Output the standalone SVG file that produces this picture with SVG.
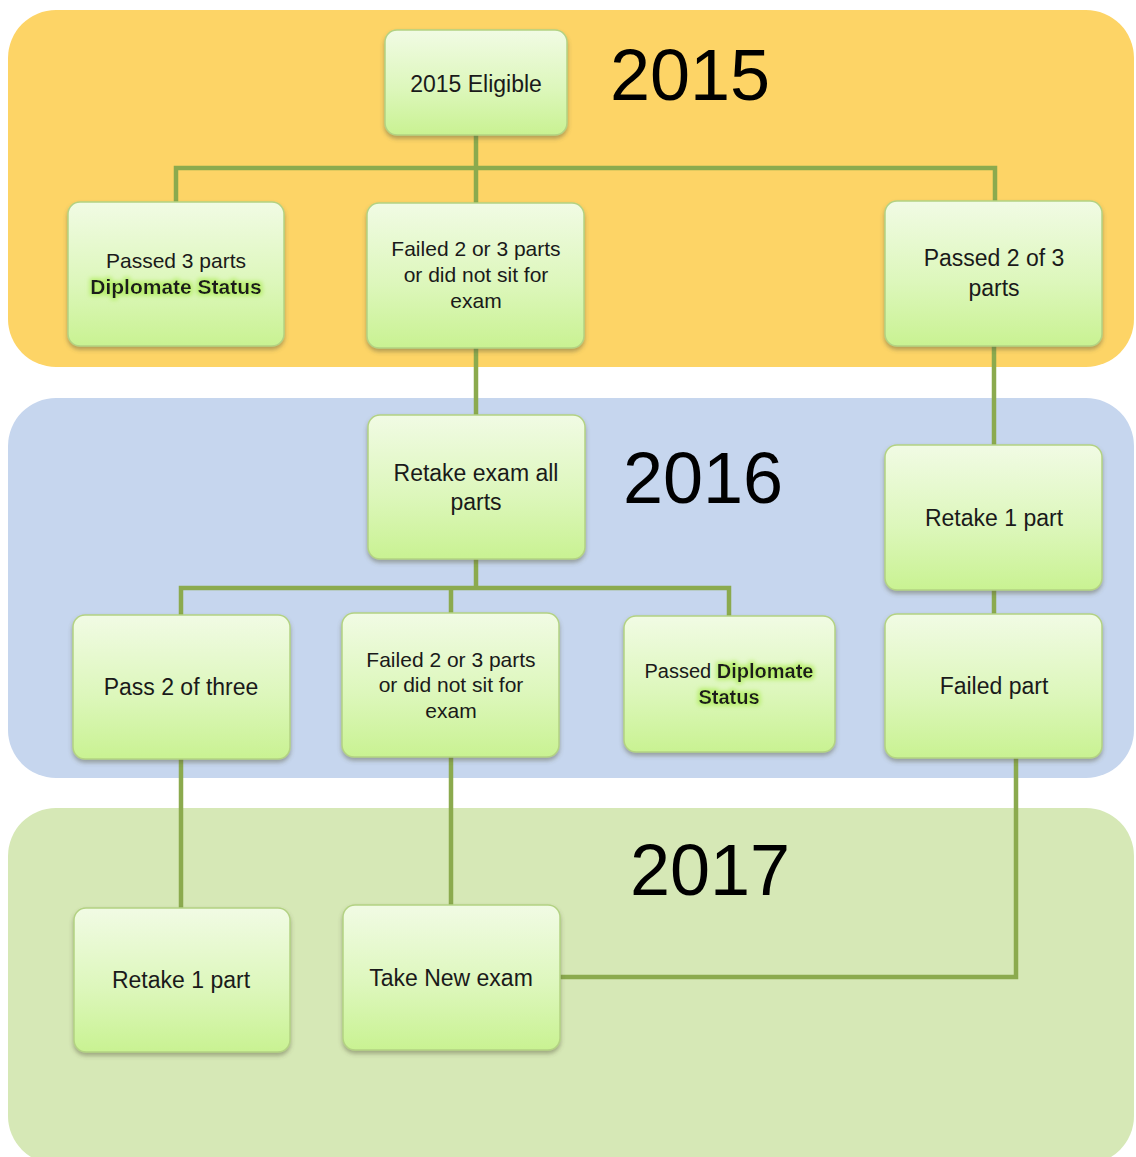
<svg xmlns="http://www.w3.org/2000/svg" width="1136" height="1157" viewBox="0 0 1136 1157">
<defs>
<linearGradient id="boxg" x1="0" y1="0" x2="0" y2="1">
<stop offset="0" stop-color="#F1FBE4"/>
<stop offset="0.55" stop-color="#DDF7BC"/>
<stop offset="1" stop-color="#C9F292"/>
</linearGradient>
<filter id="sh" x="-10%" y="-10%" width="120%" height="130%">
<feDropShadow dx="0" dy="3" stdDeviation="2" flood-color="#5a5a40" flood-opacity="0.45"/>
</filter>
<filter id="glow" x="-10%" y="-30%" width="120%" height="160%">
<feMorphology in="SourceAlpha" operator="dilate" radius="1.5" result="d"/>
<feGaussianBlur in="d" stdDeviation="2" result="b"/>
<feFlood flood-color="#B6EE6A" flood-opacity="0.9"/>
<feComposite in2="b" operator="in" result="g"/>
<feMerge><feMergeNode in="g"/><feMergeNode in="SourceGraphic"/></feMerge>
</filter>
<style>
.box{fill:url(#boxg);stroke:#B3D283;stroke-width:1.5;filter:url(#sh)}
.t{font-family:"Liberation Sans",Arial,sans-serif;fill:#1a1a1a;text-anchor:middle}
.t23{font-size:23px}
.t21{font-size:21px}
.t20{font-size:20px}
.yr{font-family:"Liberation Sans",Arial,sans-serif;font-size:72px;fill:#000;text-anchor:middle}
.b{font-weight:bold}
.c{fill:none;stroke:#8BAA4E;stroke-width:4.5}
</style>
</defs>
<rect width="1136" height="1157" fill="#FFFFFF"/>
<g id="bands">
<rect x="8" y="10" width="1126" height="357" rx="48" fill="#FDD466"/>
<rect x="8" y="398" width="1126" height="380" rx="48" fill="#C6D6EE"/>
<rect x="8" y="808" width="1126" height="356" rx="48" fill="#D6E8B6"/>
</g>
<g id="year-labels">
<text class="yr" x="690" y="100">2015</text>
<text class="yr" x="703" y="503">2016</text>
<text class="yr" x="710" y="895">2017</text>
</g>
<g id="connectors">
<path class="c" d="M476 135 V203 M176 202 V168 H995 V201"/>
<path class="c" d="M476 348 V415"/>
<path class="c" d="M994 346 V445"/>
<path class="c" d="M476 559 V588 M181 615 V588 H729 V616 M451 588 V613"/>
<path class="c" d="M994 590 V614"/>
<path class="c" d="M181 759 V908"/>
<path class="c" d="M451 757 V905"/>
<path class="c" d="M1016 758 V977 H560"/>
</g>
<g id="n-2015-eligible">
<rect class="box" x="385" y="30" width="182" height="105" rx="12"/>
<text class="t t23" x="476" y="92">2015 Eligible</text>
</g>
<g id="n-passed-3-parts">
<rect class="box" x="68" y="202" width="216" height="144" rx="12"/>
<text class="t t21" x="176" y="268">Passed 3 parts</text>
<text class="t t21 b" x="176" y="294" filter="url(#glow)">Diplomate Status</text>
</g>
<g id="n-failed-2015">
<rect class="box" x="367" y="203" width="217" height="145" rx="12"/>
<text class="t t21" x="476" y="256">Failed 2 or 3 parts</text>
<text class="t t21" x="476" y="282">or did not sit for</text>
<text class="t t21" x="476" y="308">exam</text>
</g>
<g id="n-passed-2-of-3">
<rect class="box" x="885" y="201" width="217" height="145" rx="12"/>
<text class="t t23" x="994" y="266">Passed 2 of 3</text>
<text class="t t23" x="994" y="296">parts</text>
</g>
<g id="n-retake-all">
<rect class="box" x="368" y="415" width="217" height="144" rx="12"/>
<text class="t t23" x="476" y="481">Retake exam all</text>
<text class="t t23" x="476" y="510">parts</text>
</g>
<g id="n-retake-1-2016">
<rect class="box" x="885" y="445" width="217" height="145" rx="12"/>
<text class="t t23" x="994" y="526">Retake 1 part</text>
</g>
<g id="n-pass-2-of-three">
<rect class="box" x="73" y="615" width="217" height="144" rx="12"/>
<text class="t t23" x="181" y="695">Pass 2 of three</text>
</g>
<g id="n-failed-2016">
<rect class="box" x="342" y="613" width="217" height="144" rx="12"/>
<text class="t t21" x="451" y="667">Failed 2 or 3 parts</text>
<text class="t t21" x="451" y="692">or did not sit for</text>
<text class="t t21" x="451" y="718">exam</text>
</g>
<g id="n-passed-diplomate">
<rect class="box" x="624" y="616" width="211" height="136" rx="12"/>
<text class="t t20" x="729" y="678">Passed <tspan class="b" filter="url(#glow)">Diplomate</tspan></text>
<text class="t t20 b" x="729" y="704" filter="url(#glow)">Status</text>
</g>
<g id="n-failed-part">
<rect class="box" x="885" y="614" width="217" height="144" rx="12"/>
<text class="t t23" x="994" y="694">Failed part</text>
</g>
<g id="n-retake-1-2017">
<rect class="box" x="74" y="908" width="216" height="144" rx="12"/>
<text class="t t23" x="181" y="988">Retake 1 part</text>
</g>
<g id="n-take-new-exam">
<rect class="box" x="343" y="905" width="217" height="145" rx="12"/>
<text class="t t23" x="451" y="986">Take New exam</text>
</g>
</svg>
